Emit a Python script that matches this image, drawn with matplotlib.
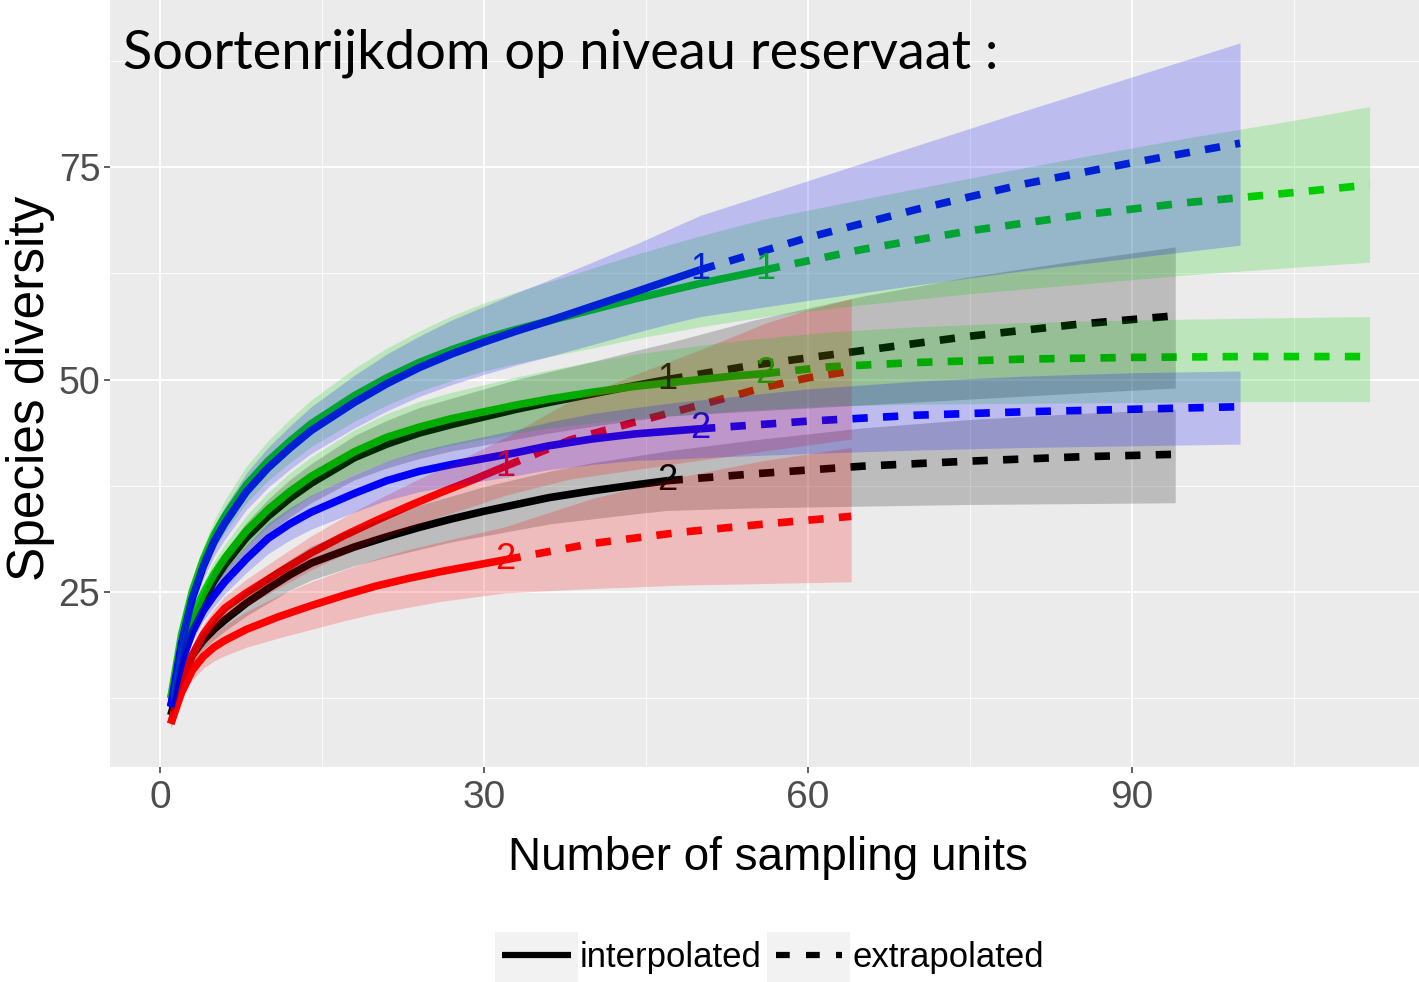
import matplotlib
matplotlib.use("Agg")
import matplotlib.pyplot as plt
from matplotlib.lines import Line2D
from matplotlib.patches import Rectangle

plt.rcParams['font.family'] = ['Liberation Sans', 'DejaVu Sans']

# ---------------- data ----------------
TITLE = "Soortenrijkdom op niveau reservaat :"
X_LABEL = "Number of sampling units"
Y_LABEL = "Species diversity"
X_TICKS = [0, 30, 60, 90]
X_MINOR = [15, 45, 75, 105]
Y_TICKS = [25, 50, 75]
Y_MINOR = [12.5, 37.5, 62.5, 87.5]
LEGEND_LABELS = ["interpolated", "extrapolated"]

RED, BLACK, GREEN, BLUE = "#FF0000", "#000000", "#00CD00", "#0000FF"

X_INT_32 = [1, 2, 3, 4, 5, 6, 8, 11, 14, 17, 20, 23, 26, 29, 32]
X_INT_47 = [1, 2, 3, 4, 5, 6, 8, 10, 12, 14, 18, 21, 24, 27, 30, 33, 36, 40, 44, 47]
X_INT_50 = [1, 2, 3, 4, 5, 6, 8, 10, 12, 14, 18, 21, 24, 27, 30, 33, 36, 40, 44, 47, 50]
X_INT_56 = [1, 2, 3, 4, 5, 6, 8, 10, 12, 14, 18, 21, 24, 27, 30, 33, 36, 40, 44, 47, 50, 53, 56]

# blue, label "1"
blue1_y_int = [11.5, 19, 24.3, 28, 30.9, 33.1, 36.8, 39.6, 41.9, 44, 47.3, 49.5, 51.4, 53, 54.4, 55.7, 56.9, 58.6, 60.3, 61.6, 62.9]
blue1_lo_int = [10.7, 17.9, 23, 26.5, 29.2, 31.2, 34.7, 37.3, 39.4, 41.3, 44.3, 46.3, 48, 49.4, 50.6, 51.7, 52.7, 54.1, 55.5, 56.5, 57.4]
blue1_hi_int = [12.3, 20.1, 25.6, 29.5, 32.6, 35, 39, 42, 44.5, 46.8, 50.5, 53, 55.1, 57, 58.6, 60.2, 61.7, 63.8, 65.9, 67.6, 69.3]
blue1_x_ext = [50, 60, 70, 80, 90, 100]
blue1_y_ext = [62.9, 66.7, 70, 73, 75.5, 77.8]
blue1_lo_ext = [57.4, 59.3, 61.1, 62.8, 64.3, 65.8]
blue1_hi_ext = [69.3, 73.4, 77.5, 81.6, 85.6, 89.6]

# green, label "1"
green1_y_int = [12.5, 20, 25.1, 28.8, 31.7, 33.9, 37.6, 40.4, 42.7, 44.8, 48.1, 50.2, 52, 53.5, 54.8, 55.9, 56.9, 58.2, 59.5, 60.4, 61.3, 62.1, 62.9]
green1_lo_int = [11.7, 18.9, 23.8, 27.3, 30, 32, 35.5, 38.1, 40.2, 42.1, 45.1, 47, 48.6, 49.9, 51, 51.9, 52.7, 53.7, 54.8, 55.5, 56.2, 56.8, 57.4]
green1_hi_int = [13.3, 21.1, 26.4, 30.3, 33.4, 35.8, 39.8, 42.8, 45.3, 47.6, 51.3, 53.7, 55.7, 57.5, 59, 60.3, 61.5, 63.1, 64.7, 65.8, 66.9, 67.9, 68.9]
green1_x_ext = [56, 65, 75, 85, 95, 105, 112]
green1_y_ext = [62.9, 65.3, 67.5, 69.3, 70.8, 72, 72.9]
green1_lo_ext = [57.4, 58.8, 60.1, 61.2, 62.3, 63.2, 63.8]
green1_hi_ext = [68.9, 71.2, 73.7, 76.1, 78.4, 80.5, 82.1]

# black, label "1"
black1_y_int = [11.5, 17.3, 21.2, 23.9, 26.3, 28.2, 31.4, 33.9, 36, 37.8, 40.8, 42.4, 43.7, 44.7, 45.6, 46.5, 47.3, 48.3, 49.3, 50]
black1_lo_int = [10.8, 16.3, 20, 22.6, 24.8, 26.6, 29.6, 31.9, 33.8, 35.5, 38.2, 39.6, 40.7, 41.6, 42.3, 43, 43.7, 44.5, 45.2, 45.7]
black1_hi_int = [12.2, 18.3, 22.4, 25.2, 27.8, 29.8, 33.2, 35.9, 38.2, 40.1, 43.4, 45.2, 46.7, 47.8, 48.9, 50, 50.9, 52.1, 53.4, 54.3]
black1_x_ext = [47, 55, 65, 75, 85, 94]
black1_y_ext = [50, 51.7, 53.4, 55.1, 56.5, 57.5]
black1_lo_ext = [45.7, 46.3, 47, 47.7, 48.4, 49]
black1_hi_ext = [54.3, 57, 59.8, 62.1, 64, 65.6]

# green, label "2"
green2_y_int = [12.5, 18.5, 22, 24.8, 27.1, 29, 32.2, 34.7, 36.8, 38.6, 41.5, 43.2, 44.4, 45.4, 46.2, 47, 47.7, 48.5, 49.2, 49.6, 50, 50.4, 50.7]
green2_lo_int = [11.8, 17.5, 20.8, 23.5, 25.6, 27.4, 30.4, 32.7, 34.6, 36.3, 38.9, 40.4, 41.4, 42.3, 43, 43.7, 44.3, 44.9, 45.4, 45.7, 46, 46.3, 46.5]
green2_hi_int = [13.2, 19.5, 23.2, 26.1, 28.6, 30.6, 34, 36.7, 39, 40.9, 44.1, 46, 47.4, 48.5, 49.4, 50.3, 51.1, 52.1, 53, 53.5, 54, 54.5, 54.9]
green2_x_ext = [56, 62, 70, 80, 90, 100, 112]
green2_y_ext = [50.7, 51.5, 52, 52.4, 52.6, 52.7, 52.7]
green2_lo_ext = [46.5, 46.9, 47.1, 47.2, 47.3, 47.4, 47.4]
green2_hi_ext = [54.9, 55.6, 56.2, 56.7, 57, 57.2, 57.4]

# blue, label "2"
blue2_y_int = [11.5, 16.8, 20.3, 22.8, 24.6, 26.2, 28.9, 31.3, 33, 34.4, 36.6, 38.1, 39.2, 40, 40.7, 41.4, 42.2, 43, 43.6, 43.9, 44.2]
blue2_lo_int = [10.8, 15.9, 19.2, 21.6, 23.3, 24.8, 27.3, 29.5, 31.1, 32.4, 34.4, 35.8, 36.8, 37.5, 38.1, 38.7, 39.4, 40, 40.5, 40.6, 40.8]
blue2_hi_int = [12.2, 17.7, 21.4, 24, 25.9, 27.6, 30.5, 33.1, 34.9, 36.4, 38.8, 40.4, 41.6, 42.5, 43.3, 44.1, 45, 46, 46.7, 47.2, 47.6]
blue2_x_ext = [50, 60, 70, 80, 90, 100]
blue2_y_ext = [44.2, 45.1, 45.8, 46.2, 46.5, 46.8]
blue2_lo_ext = [40.8, 41.3, 41.7, 42, 42.2, 42.4]
blue2_hi_ext = [47.6, 48.9, 49.8, 50.4, 50.8, 51]

# black, label "2"
black2_y_int = [10.5, 14.8, 17.6, 19.3, 20.6, 21.7, 23.7, 25.4, 27, 28.4, 30.3, 31.5, 32.6, 33.6, 34.5, 35.3, 36.1, 36.9, 37.6, 38.1]
black2_lo_int = [9.9, 14, 16.6, 18.2, 19.4, 20.4, 22.2, 23.7, 25.2, 26.4, 28.1, 29.1, 30, 30.9, 31.6, 32.3, 33, 33.6, 34.2, 34.6]
black2_hi_int = [11.1, 15.6, 18.6, 20.4, 21.8, 23, 25.2, 27.1, 28.8, 30.4, 32.5, 33.9, 35.2, 36.3, 37.4, 38.3, 39.2, 40.2, 41, 41.6]
black2_x_ext = [47, 55, 65, 75, 85, 94]
black2_y_ext = [38.1, 38.9, 39.8, 40.4, 40.9, 41.2]
black2_lo_ext = [34.6, 34.9, 35.1, 35.3, 35.4, 35.5]
black2_hi_ext = [41.6, 42.9, 44.3, 45.3, 46, 46.5]

# red, label "1"
red1_y_int = [9.5, 14.2, 17.6, 20, 21.7, 23.1, 24.9, 27.3, 29.6, 31.6, 33.4, 35.1, 36.7, 38.2, 39.8]
red1_lo_int = [8.9, 13.3, 16.5, 18.8, 20.4, 21.7, 23.3, 25.5, 27.6, 29.4, 31, 32.5, 33.9, 35.1, 36.4]
red1_hi_int = [10.1, 15.1, 18.7, 21.2, 23, 24.5, 26.5, 29.1, 31.6, 33.8, 35.8, 37.7, 39.5, 41.3, 43.2]
red1_x_ext = [32, 38, 44, 50, 56, 60, 64]
red1_y_ext = [39.8, 42.9, 45, 47, 49.1, 50.2, 51]
red1_lo_ext = [36.4, 38.3, 39.4, 40.5, 41.6, 42.3, 43]
red1_hi_ext = [43.2, 47.5, 50.6, 53.5, 56.6, 58.2, 59.5]

# red, label "2"
red2_y_int = [9.5, 13.2, 15.8, 17.4, 18.5, 19.3, 20.6, 22.1, 23.4, 24.6, 25.7, 26.6, 27.4, 28.1, 28.8]
red2_lo_int = [9, 12.4, 14.7, 16, 16.9, 17.5, 18.5, 19.6, 20.6, 21.6, 22.5, 23.2, 23.9, 24.4, 24.9]
red2_hi_int = [10, 14, 16.9, 18.8, 20.1, 21.1, 22.7, 24.6, 26.2, 27.6, 28.9, 30, 30.9, 31.8, 32.7]
red2_x_ext = [32, 40, 48, 56, 64]
red2_y_ext = [28.8, 30.7, 32, 33, 33.9]
red2_lo_ext = [24.9, 25.4, 25.8, 26, 26.2]
red2_hi_ext = [32.7, 36, 38.5, 40.5, 42]

series = [
    (BLACK, "1", X_INT_47, black1_y_int, black1_lo_int, black1_hi_int, black1_x_ext, black1_y_ext, black1_lo_ext, black1_hi_ext),
    (BLACK, "2", X_INT_47, black2_y_int, black2_lo_int, black2_hi_int, black2_x_ext, black2_y_ext, black2_lo_ext, black2_hi_ext),
    (RED, "1", X_INT_32, red1_y_int, red1_lo_int, red1_hi_int, red1_x_ext, red1_y_ext, red1_lo_ext, red1_hi_ext),
    (RED, "2", X_INT_32, red2_y_int, red2_lo_int, red2_hi_int, red2_x_ext, red2_y_ext, red2_lo_ext, red2_hi_ext),
    (GREEN, "1", X_INT_56, green1_y_int, green1_lo_int, green1_hi_int, green1_x_ext, green1_y_ext, green1_lo_ext, green1_hi_ext),
    (GREEN, "2", X_INT_56, green2_y_int, green2_lo_int, green2_hi_int, green2_x_ext, green2_y_ext, green2_lo_ext, green2_hi_ext),
    (BLUE, "1", X_INT_50, blue1_y_int, blue1_lo_int, blue1_hi_int, blue1_x_ext, blue1_y_ext, blue1_lo_ext, blue1_hi_ext),
    (BLUE, "2", X_INT_50, blue2_y_int, blue2_lo_int, blue2_hi_int, blue2_x_ext, blue2_y_ext, blue2_lo_ext, blue2_hi_ext),
]

# ---------------- figure ----------------
W, H = 1419, 982
fig = plt.figure(figsize=(W / 100, H / 100), dpi=100)
fig.patch.set_facecolor("white")
ax = fig.add_axes([110 / W, (H - 767) / H, (W - 110) / W, 767 / H])
ax.set_facecolor("#EBEBEB")
ax.set_xlim(-4.63, 116.57)
ax.set_ylim(4.41, 94.65)
for sp in ax.spines.values():
    sp.set_visible(False)

ax.set_xticks(X_TICKS)
ax.set_xticklabels([str(v) for v in X_TICKS])
ax.set_xticks(X_MINOR, minor=True)
ax.set_yticks(Y_TICKS)
ax.set_yticklabels([str(v) for v in Y_TICKS])
ax.set_yticks(Y_MINOR, minor=True)
ax.set_axisbelow(True)
ax.grid(which="major", color="white", linewidth=1.3)
ax.grid(which="minor", color="white", linewidth=0.6)
ax.tick_params(which="minor", length=0)
ax.tick_params(which="major", length=4, width=1.1, color="#333333",
               labelcolor="#4D4D4D", labelsize=27)
ax.tick_params(axis="x", labelsize=28, pad=5)
ax.tick_params(axis="y", pad=3)

LW = 5.5
for color, lab, xi, yi, loi, hii, xe, ye, loe, hie in series:
    ax.plot(xi, yi, color=color, lw=LW, solid_capstyle="butt",
            solid_joinstyle="round", zorder=2)
    ax.plot(xe, ye, color=color, lw=LW, dashes=(2, 2), dash_capstyle="butt", zorder=2)
    ax.text(xi[-1], yi[-1], lab, color=color, fontsize=26, ha="center", va="center", zorder=3)

for color, lab, xi, yi, loi, hii, xe, ye, loe, hie in series:
    ax.fill_between(list(xi) + list(xe), list(loi) + list(loe), list(hii) + list(hie),
                    color=color, alpha=0.2, linewidth=0, zorder=4)

# axis titles
fig.text(768 / W, 1 - 858 / H, X_LABEL, fontsize=33, ha="center", va="center", color="black")
fig.text(31 / W, 1 - 388 / H, Y_LABEL, fontsize=37, ha="center", va="center",
         rotation=90, color="black")

# title overlay
fig.text(123 / W, 1 - 68 / H, TITLE, fontsize=39, family=["Lato", "DejaVu Sans"],
         ha="left", va="baseline", color="black")

# legend (manual, ggplot-style keys)
key_y = 1 - 955 / H
fig.add_artist(Rectangle((495 / W, 0), 83 / W, 50 / H, transform=fig.transFigure,
                         facecolor="#F2F2F2", edgecolor="none"))
fig.add_artist(Rectangle((767 / W, 0), 83 / W, 50 / H, transform=fig.transFigure,
                         facecolor="#F2F2F2", edgecolor="none"))
fig.add_artist(Line2D([502 / W, 571 / W], [key_y, key_y], transform=fig.transFigure,
                      color="black", lw=4.5, solid_capstyle="butt"))
fig.add_artist(Line2D([776 / W, 842 / W], [key_y, key_y], transform=fig.transFigure,
                      color="black", lw=4.5, dashes=(2.2, 2.6), dash_capstyle="butt"))
fig.text(580 / W, 1 - 958 / H, LEGEND_LABELS[0], fontsize=25, ha="left", va="center")
fig.text(852 / W, 1 - 958 / H, LEGEND_LABELS[1], fontsize=25, ha="left", va="center")

fig.savefig("out.png", dpi=100)
